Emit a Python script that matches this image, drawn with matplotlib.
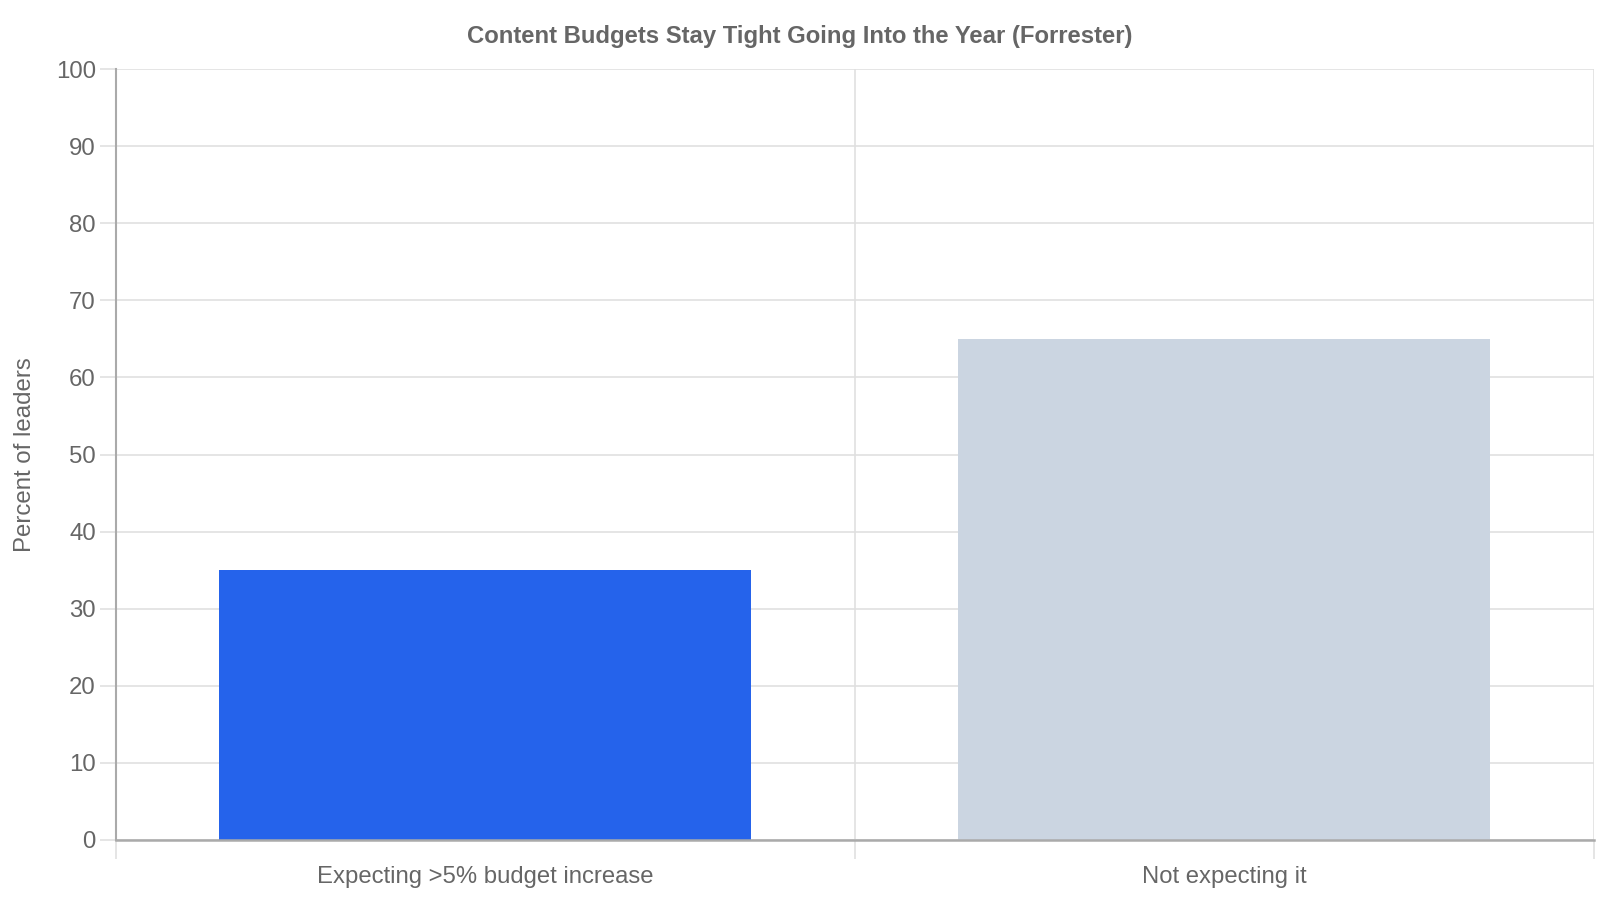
import numpy as np
import matplotlib
matplotlib.use("Agg")
import matplotlib.pyplot as plt
from matplotlib.ticker import FixedLocator

# data
categories = ["Expecting >5% budget increase", "Not expecting it"]
percent_leaders = [35, 65]
bar_colors = ["#2563EB", "#CBD5E1"]
y_ticks = list(range(0, 101, 10))

plt.rcParams['font.family'] = ['Liberation Sans', 'DejaVu Sans']
text_col = "#666666"
grid_col = "#e0e0e0"
axis_col = "#aaaaaa"

fig = plt.figure(figsize=(16, 9), dpi=100)
ax = fig.add_axes([0.0725, 0.0667, 0.9235, 0.8566])

x = np.arange(len(categories))
ax.bar(x, percent_leaders, width=0.72, color=bar_colors, zorder=3)

ax.set_xlim(-0.5, len(categories) - 0.5)
ax.set_ylim(0, 100)

# y axis
ax.set_yticks(y_ticks)
ax.tick_params(axis='y', length=11.5, width=1.2, color=grid_col, pad=3,
               labelsize=17.3, labelcolor=text_col)
ax.yaxis.grid(True, color=grid_col, linewidth=1.2, zorder=0)

# x axis: ticks at category edges, labels at centers
ax.xaxis.set_major_locator(FixedLocator(np.arange(-0.5, len(categories), 1.0)))
ax.xaxis.set_minor_locator(FixedLocator(x))
ax.set_xticklabels([], minor=False)
ax.set_xticklabels(categories, minor=True)
ax.tick_params(axis='x', which='major', length=14, width=1.2, color=grid_col)
ax.tick_params(axis='x', which='minor', length=0, pad=19,
               labelsize=17.2, labelcolor=text_col)
ax.xaxis.grid(True, which='major', color=grid_col, linewidth=1.2, zorder=0)

for s in ['top', 'right']:
    ax.spines[s].set_visible(False)
ax.spines['left'].set_color(axis_col)
ax.spines['bottom'].set_color(axis_col)
ax.spines['left'].set_linewidth(1.5)
ax.spines['bottom'].set_linewidth(1.8)
ax.spines['bottom'].set_zorder(4)

ax.set_ylabel("Percent of leaders", fontsize=17.3, color=text_col, labelpad=14)
fig.suptitle("Content Budgets Stay Tight Going Into the Year (Forrester)",
             fontsize=17.2, fontweight='bold', color=text_col, x=0.5, y=0.96,
             va='center')

fig.savefig("out.png", dpi=100, facecolor="white")
